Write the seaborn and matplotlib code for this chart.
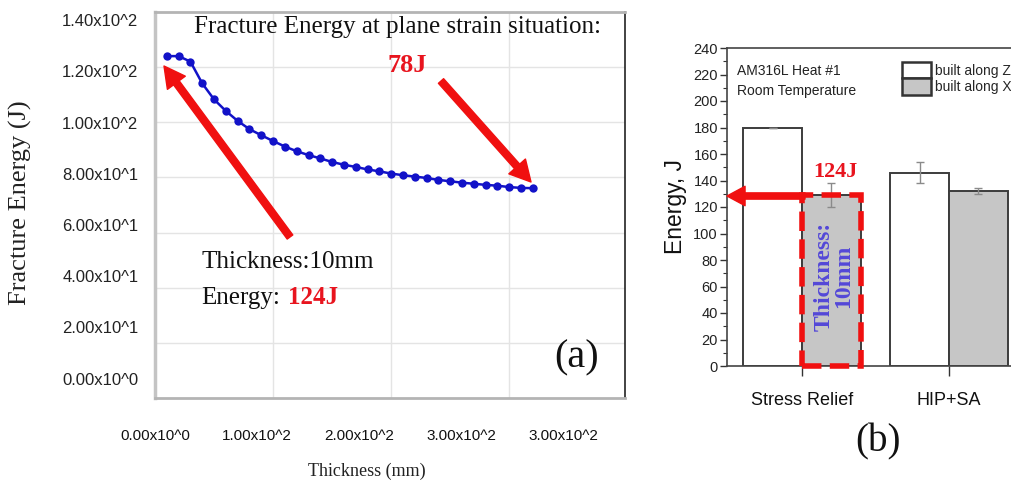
import numpy as np
import pandas as pd
import matplotlib
matplotlib.use("Agg")
import matplotlib.pyplot as plt
import matplotlib.patches as mpatches
import seaborn as sns

# ---------------- data ----------------
thickness_mm = [10, 20, 30, 40, 50, 60, 70, 80, 90, 100, 110, 120, 130, 140, 150, 160,
                170, 180, 190, 200, 210, 220, 230, 240, 250, 260, 270, 280, 290, 300, 310, 320]
fracture_energy = [124, 124, 122, 114.1, 108.3, 104.1, 100.5, 97.5, 95.3, 93.2, 91.2, 89.5,
                   88.1, 86.9, 85.6, 84.6, 83.8, 82.9, 82.2, 81.4, 80.8, 80.3, 79.8, 79.1,
                   78.6, 78.1, 77.7, 77.3, 77.0, 76.5, 76.2, 76.1]
x_tick_labels = ["0.00x10^0", "1.00x10^2", "2.00x10^2", "3.00x10^2", "3.00x10^2"]
y_tick_labels = ["0.00x10^0", "2.00x10^1", "4.00x10^1", "6.00x10^1",
                 "8.00x10^1", "1.00x10^2", "1.20x10^2", "1.40x10^2"]

treatments = ["Stress Relief", "Stress Relief", "HIP+SA", "HIP+SA"]
build_dirs = ["built along Z", "built along X", "built along Z", "built along X"]
impact_energy = [180, 129, 146, 132]
impact_err = [0, 9, 8, 2.5]
treatment_order = ["Stress Relief", "HIP+SA"]
build_order = ["built along Z", "built along X"]

# ---------------- style ----------------
sns.set_theme(style="white")
plt.rcParams["font.family"] = ["Liberation Sans", "DejaVu Sans"]
SERIF = ["Liberation Serif", "DejaVu Serif"]

W, H = 1011, 492
fig = plt.figure(figsize=(W / 100, H / 100), dpi=100)


def P(x, y):
    return (x / W, 1 - y / H)


# ---------------- panel (a) ----------------
ax1 = fig.add_axes([155 / W, 1 - 398 / H, 470 / W, 386 / H])
sns.lineplot(x=thickness_mm, y=fracture_energy, ax=ax1, color="#1212c8",
             linewidth=1.8, marker="o", markersize=6, markeredgewidth=0)
ax1.set_xlim(0, 398)
ax1.set_ylim(0, 140)
ax1.set_xticks(np.linspace(0, 346, len(x_tick_labels)))
ax1.set_xticklabels(x_tick_labels, fontsize=11, color="#111")
ax1.set_yticks(np.linspace(7, 137, len(y_tick_labels)))
ax1.set_yticklabels(y_tick_labels, fontsize=12, color="#222")
ax1.set_xticks([100, 200, 300], minor=True)
ax1.set_yticks([20, 40, 60, 80, 100, 120], minor=True)
ax1.grid(False)
ax1.grid(True, which="minor", color="#e4e4e4", linewidth=1)
ax1.tick_params(axis="both", which="both", length=0)
ax1.tick_params(axis="x", pad=22)
ax1.tick_params(axis="y", pad=12)
for side, col, lw in [("left", "#c4c4c4", 2.5), ("top", "#b4b4b4", 2),
                      ("bottom", "#b4b4b4", 2), ("right", "#222222", 1.2)]:
    ax1.spines[side].set_visible(True)
    ax1.spines[side].set_color(col)
    ax1.spines[side].set_linewidth(lw)
ax1.set_xlabel("Thickness (mm)", family=SERIF, fontsize=13, color="#222")
ax1.xaxis.set_label_coords(0.451, -0.168)
ax1.set_ylabel("Fracture Energy (J)", family=SERIF, fontsize=19, color="#222")
ax1.yaxis.set_label_coords(-0.262, 0.505)

fig.text(*P(398, 27), "Fracture Energy at plane strain situation:", family=SERIF,
         fontsize=18, ha="center", va="center", color="#111")
fig.text(*P(407, 66), "78J", family=SERIF, fontsize=19, fontweight="bold",
         ha="center", va="center", color="#e8141e")
fig.text(*P(201, 262), "Thickness:10mm", family=SERIF, fontsize=18,
         ha="left", va="center", color="#111")
fig.text(*P(201, 298), "Energy:", family=SERIF, fontsize=18,
         ha="left", va="center", color="#111")
fig.text(*P(288, 298), "124J", family=SERIF, fontsize=18, fontweight="bold",
         ha="left", va="center", color="#e8141e")
fig.text(*P(577, 358), "(a)", family=SERIF, fontsize=29,
         ha="center", va="center", color="#111")


def red_arrow(tail, tip, tw=0.5, hw=1.6, hl=1.5):
    arr = mpatches.FancyArrowPatch(
        P(*tail), P(*tip), transform=fig.transFigure,
        arrowstyle=f"simple,tail_width={tw},head_width={hw},head_length={hl}",
        mutation_scale=10, color="#f01010", shrinkA=0, shrinkB=0, zorder=10)
    fig.add_artist(arr)


red_arrow((290, 237), (164, 66))
red_arrow((441, 81), (531, 182))

# ---------------- panel (b) ----------------
ax2 = fig.add_axes([727 / W, 1 - 366 / H, (W - 727) / W, 318 / H])
df = pd.DataFrame({"treatment": treatments, "build": build_dirs,
                   "energy": impact_energy, "err": impact_err})
sns.barplot(data=df, x="treatment", y="energy", hue="build", order=treatment_order,
            hue_order=build_order, palette={"built along Z": "white", "built along X": "#c6c6c6"},
            saturation=1, edgecolor="#3c3c3c", linewidth=1.4, errorbar=None,
            width=0.8, legend=False, ax=ax2)
offsets = {"built along Z": -0.2, "built along X": 0.2}
xpos = [treatment_order.index(t) + offsets[b] for t, b in zip(treatments, build_dirs)]
ax2.errorbar(xpos, impact_energy, yerr=impact_err, fmt="none", ecolor="#8a8a8a",
             elinewidth=1, capsize=3, capthick=1, zorder=5)
ax2.set_xlim(-0.51, 1.422)
ax2.set_ylim(0, 240)
ax2.set_yticks(np.arange(0, 241, 20))
ax2.set_yticks(np.arange(0, 241, 10), minor=True)
ax2.tick_params(axis="y", which="major", direction="out", length=5, width=1,
                color="#333", labelsize=10.5, pad=1.5, left=True)
ax2.tick_params(axis="y", which="minor", direction="out", length=3, width=0.8,
                color="#333", left=True)
ax2.tick_params(axis="x", direction="out", length=7, width=1, color="#333",
                labelsize=13, pad=12, bottom=True)
for lab in ax2.get_yticklabels():
    lab.set_color("#222")
for lab in ax2.get_xticklabels():
    lab.set_color("#111")
for side in ["left", "bottom", "top"]:
    ax2.spines[side].set_visible(True)
    ax2.spines[side].set_color("#444")
    ax2.spines[side].set_linewidth(1.2)
ax2.spines["right"].set_visible(False)
ax2.set_xlabel("")
ax2.set_ylabel("Energy, J", fontsize=16.5, color="#111")
ax2.yaxis.set_label_coords(-0.14, 0.50)

ax2.text(0.035, 0.928, "AM316L Heat #1", transform=ax2.transAxes, fontsize=10,
         ha="left", va="center", color="#222")
ax2.text(0.035, 0.865, "Room Temperature", transform=ax2.transAxes, fontsize=10,
         ha="left", va="center", color="#222")

handles = [mpatches.Patch(facecolor="white", edgecolor="#333", linewidth=1.8),
           mpatches.Patch(facecolor="#c6c6c6", edgecolor="#333", linewidth=1.8)]
fig.legend(handles, build_order, loc="upper left", bbox_to_anchor=P(902, 62),
           bbox_transform=fig.transFigure, frameon=False, fontsize=10,
           handlelength=2.1, handleheight=1.45, labelspacing=0.0,
           handletextpad=0.25, borderpad=0, borderaxespad=0)

# dashed box around the "built along X" stress-relief bar
sr_x_val = impact_energy[1]
box = mpatches.Rectangle((0.0, 0.0), 0.4, sr_x_val, fill=False, edgecolor="#f01010",
                         linewidth=4, linestyle=(0, (3.5, 1.5)), zorder=8, clip_on=False)
ax2.add_patch(box)
ax2.text(0.215, sr_x_val / 2 + 3, "Thickness:\n10mm", rotation=90, ha="center",
         va="center", multialignment="center", family=SERIF, fontsize=17,
         fontweight="bold", color="#5448d8", linespacing=0.9, zorder=9)
fig.text(*P(835, 172), "124J", family=SERIF, fontsize=16, fontweight="bold",
         ha="center", va="center", color="#e8141e")
red_arrow((805, 196), (727, 196), tw=0.45, hw=1.4, hl=1.3)

fig.text(*P(878, 442), "(b)", family=SERIF, fontsize=28, ha="center", va="center",
         color="#111")

fig.savefig("out.png", dpi=100)
